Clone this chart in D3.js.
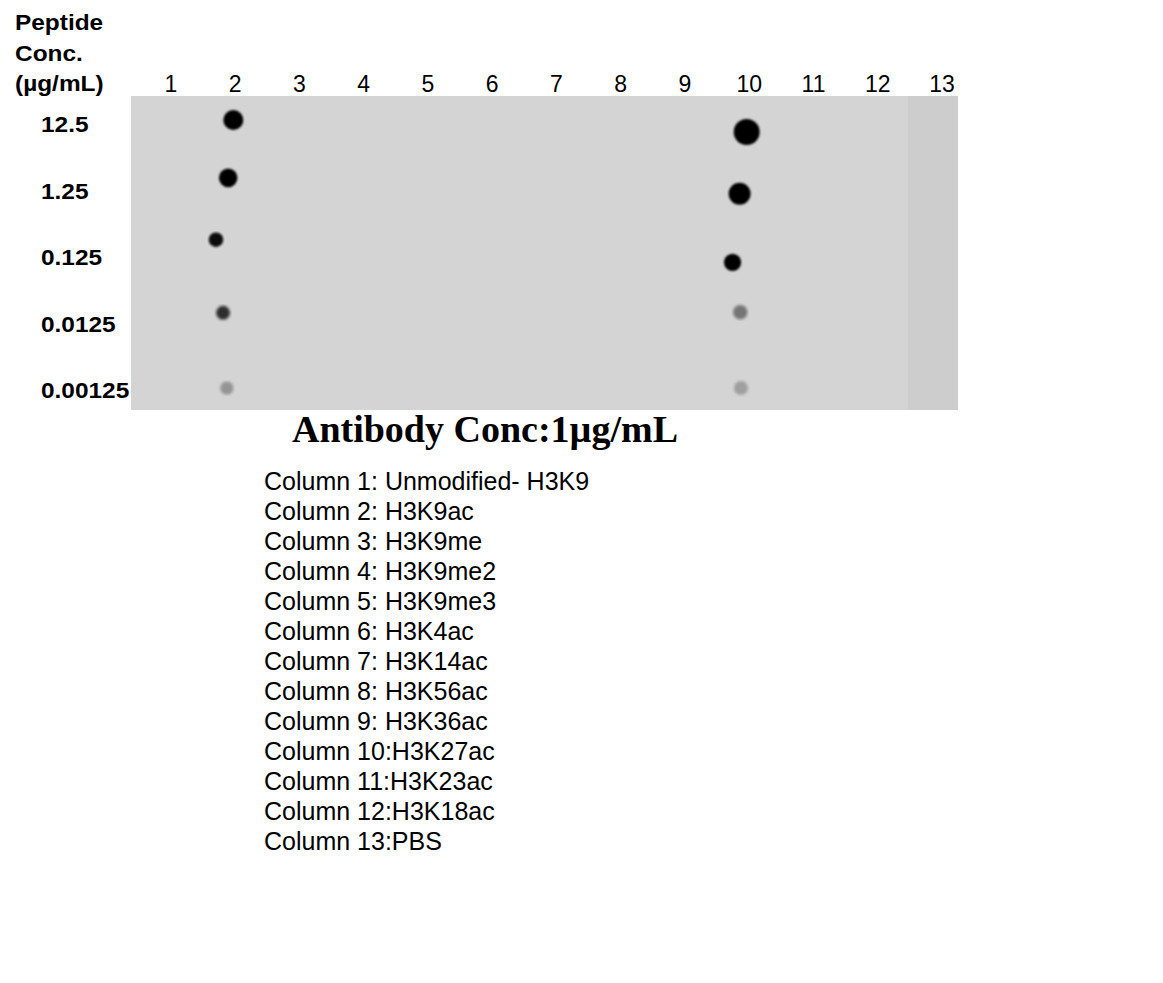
<!DOCTYPE html>
<html>
<head>
<meta charset="utf-8">
<script src="https://cdn.jsdelivr.net/npm/d3@7"></script>
<style>
  body { margin: 0; background: white; }
</style>
</head>
<body>
<div id="visualization"></div>
<script>
let w = 1163;
let h = 983;

// lanes and peptide dilutions
let lanes = ["1","2","3","4","5","6","7","8","9","10","11","12","13"];
let concs = ["12.5","1.25","0.125","0.0125","0.00125"];

let peptides = ["Unmodified- H3K9","H3K9ac","H3K9me","H3K9me2","H3K9me3","H3K4ac",
  "H3K14ac","H3K56ac","H3K36ac","H3K27ac","H3K23ac","H3K18ac","PBS"];
let legendSep = [": ",": ",": ",": ",": ",": ",": ",": ",": ",":",":",":",":"];

// spots seen on the blot: lane, row (fractional centroid as read),
// spot signal (area, a.u.) and optical density (0-1)
let spotLane    = [1.97, 1.89, 1.70, 1.81, 1.87,   9.96, 9.85, 9.74, 9.86, 9.87];
let spotRow     = [-0.06, 0.81, 1.74, 2.84, 3.97,  0.12, 1.05, 2.08, 2.83, 3.97];
let spotSignal  = [118, 102, 62, 58, 52,           200, 143, 88, 62, 58];
let spotDensity = [1, 1, 0.95, 0.78, 0.3,          1, 1, 1, 0.45, 0.25];

let viz = d3.select("#visualization")
  .append("svg")
  .attr("width", w)
  .attr("height", h)
  .style("background-color", "white");

// scales
let xScale = d3.scaleLinear().domain([1, 13]).range([171, 942]);
let yScale = d3.scaleLinear().domain([0, 4]).range([124, 390]);
let rScale = d3.scaleSqrt().domain([0, 200]).range([0, 13]);
let colorScale = d3.scaleLinear().domain([0, 1]).range(["#d4d4d4", "#000000"]).clamp(true);

let defs = viz.append("defs");
defs.append("filter").attr("id", "soft")
  .append("feGaussianBlur").attr("stdDeviation", 1);
defs.append("filter").attr("id", "softer")
  .append("feGaussianBlur").attr("stdDeviation", 1.8);

// membrane
let memLeft = xScale(1) - 40;
let memRight = xScale(13) + 16;
let memTop = 96;
let memBottom = 410;

viz.append("rect")
  .attr("x", memLeft)
  .attr("y", memTop)
  .attr("width", memRight - memLeft)
  .attr("height", memBottom - memTop)
  .attr("fill", "#d4d4d4");

// slightly darker strip on the PBS lane
viz.append("rect")
  .attr("x", xScale(12.5) - 2)
  .attr("y", memTop)
  .attr("width", memRight - xScale(12.5) + 2)
  .attr("height", memBottom - memTop)
  .attr("fill", "#cdcdcd");

// spots
let spots = spotLane.map(function(l, i){
  return {lane: l, row: spotRow[i], signal: spotSignal[i], density: spotDensity[i]};
});

viz.selectAll(".spot").data(spots).enter()
  .append("circle")
  .attr("class", "spot")
  .attr("cx", d => xScale(d.lane))
  .attr("cy", d => yScale(d.row))
  .attr("r", d => rScale(d.signal))
  .attr("fill", d => colorScale(d.density))
  .attr("filter", d => d.density < 0.9 ? "url(#softer)" : "url(#soft)");

// lane numbers
viz.selectAll(".lanelabel").data(lanes).enter()
  .append("text")
  .attr("class", "lanelabel")
  .attr("x", d => xScale(+d))
  .attr("y", 92)
  .attr("text-anchor", "middle")
  .style("font-family", "Liberation Sans, Arial, sans-serif")
  .style("font-size", "23px")
  .text(d => d);

// concentration labels (the original type is a bit stretched)
viz.selectAll(".rowlabel").data(concs).enter()
  .append("text")
  .attr("class", "rowlabel")
  .attr("transform", (d, i) => "translate(41," + (yScale(i) + 8) + ") scale(1.11,1)")
  .style("font-family", "Liberation Sans, Arial, sans-serif")
  .style("font-weight", "bold")
  .style("font-size", "22px")
  .text(d => d);

// header
let header = ["Peptide", "Conc.", "(\u00b5g/mL)"];
viz.selectAll(".header").data(header).enter()
  .append("text")
  .attr("class", "header")
  .attr("transform", (d, i) => "translate(15," + (30 + i * 30.5) + ") scale(1.11,1)")
  .style("font-family", "Liberation Sans, Arial, sans-serif")
  .style("font-weight", "bold")
  .style("font-size", "22px")
  .text(d => d);

// title
viz.append("text")
  .attr("x", 485)
  .attr("y", 442)
  .attr("text-anchor", "middle")
  .style("font-family", "Liberation Serif, Times New Roman, serif")
  .style("font-weight", "bold")
  .style("font-size", "38px")
  .text("Antibody Conc:1\u00b5g/mL");

// legend
viz.selectAll(".legend").data(peptides).enter()
  .append("text")
  .attr("class", "legend")
  .attr("x", 264)
  .attr("y", (d, i) => 490 + i * 30)
  .style("font-family", "Liberation Sans, Arial, sans-serif")
  .style("font-size", "25px")
  .text((d, i) => "Column " + (i + 1) + legendSep[i] + d);
</script>
</body>
</html>
